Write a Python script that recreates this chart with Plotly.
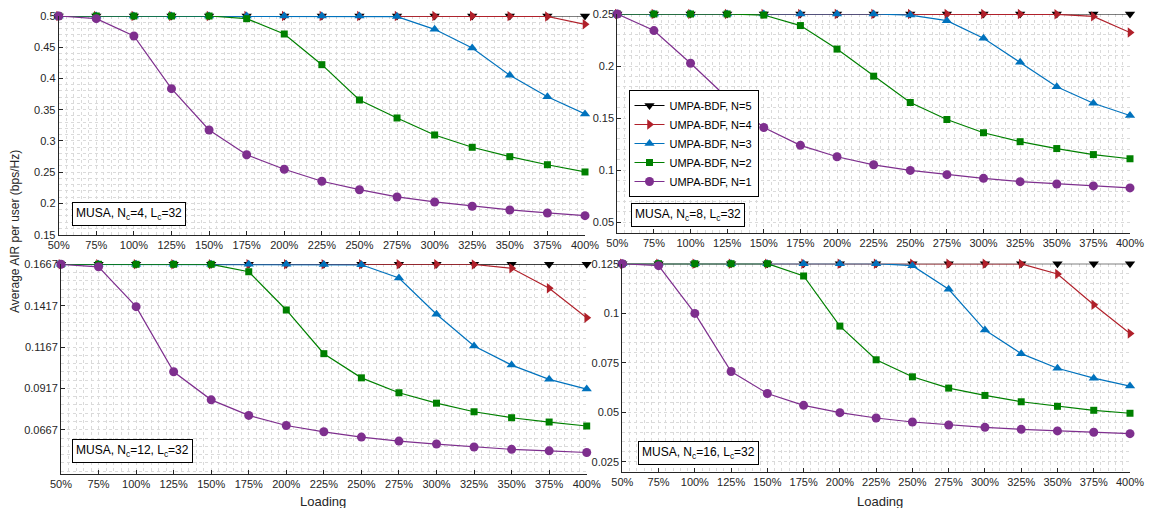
import plotly.graph_objects as go

# page has an 8px body margin; figure coordinates are reference pixels minus OFF
OFF = 8
W, H = 1153 - 2 * OFF, 516 - 2 * OFF

loading = [50, 75, 100, 125, 150, 175, 200, 225, 250, 275, 300, 325, 350, 375, 400]
loading_labels = [f"{v}%" for v in loading]
series_names = ["UMPA-BDF, N=5", "UMPA-BDF, N=4", "UMPA-BDF, N=3", "UMPA-BDF, N=2", "UMPA-BDF, N=1"]

# Panel Nc=4
nc4_n5 = [0.5] * 15
nc4_n4 = [0.5, 0.5, 0.5, 0.5, 0.5, 0.5, 0.5, 0.5, 0.5, 0.5, 0.5, 0.5, 0.4998, 0.4992, 0.4867]
nc4_n3 = [0.5, 0.5, 0.5, 0.5, 0.5, 0.5, 0.5, 0.5, 0.5, 0.499, 0.4787, 0.4488, 0.4051, 0.3709, 0.3432]
nc4_n2 = [0.5, 0.5, 0.5, 0.5, 0.5, 0.4957, 0.4712, 0.4221, 0.3656, 0.3368, 0.3096, 0.2899, 0.2749, 0.262, 0.2504]
nc4_n1 = [0.5, 0.4957, 0.468, 0.3837, 0.3176, 0.278, 0.2547, 0.2355, 0.222, 0.2104, 0.2024, 0.1955, 0.1896, 0.1848, 0.1805]

# Panel Nc=8
nc8_n5 = [0.25] * 15
nc8_n4 = [0.25, 0.25, 0.25, 0.25, 0.25, 0.25, 0.25, 0.25, 0.25, 0.25, 0.25, 0.25, 0.2497, 0.2477, 0.2322]
nc8_n3 = [0.25, 0.25, 0.25, 0.25, 0.25, 0.25, 0.25, 0.25, 0.249, 0.2436, 0.2268, 0.2036, 0.1801, 0.1643, 0.1525]
nc8_n2 = [0.25, 0.25, 0.25, 0.25, 0.249, 0.2389, 0.2163, 0.1903, 0.165, 0.1487, 0.136, 0.1274, 0.1208, 0.115, 0.111]
nc8_n1 = [0.25, 0.2341, 0.2027, 0.1696, 0.141, 0.1239, 0.1129, 0.1052, 0.0998, 0.0957, 0.0922, 0.089, 0.0868, 0.0849, 0.083]

# Panel Nc=12
nc12_n5 = [0.1667] * 15
nc12_n4 = [0.1667, 0.1667, 0.1667, 0.1667, 0.1667, 0.1667, 0.1667, 0.1667, 0.1667, 0.1667, 0.1667, 0.1666, 0.1643, 0.1522, 0.1344]
nc12_n3 = [0.1667, 0.1667, 0.1667, 0.1667, 0.1667, 0.1667, 0.1667, 0.1666, 0.1664, 0.1584, 0.1365, 0.1173, 0.1058, 0.0972, 0.0913]
nc12_n2 = [0.1667, 0.1667, 0.1667, 0.1667, 0.1667, 0.1622, 0.1391, 0.1127, 0.0981, 0.0891, 0.0828, 0.0776, 0.074, 0.0714, 0.069]
nc12_n1 = [0.1667, 0.1652, 0.1411, 0.1018, 0.0848, 0.0754, 0.0693, 0.0655, 0.0623, 0.0599, 0.0581, 0.0563, 0.0549, 0.054, 0.053]

# Panel Nc=16
nc16_n5 = [0.125] * 15
nc16_n4 = [0.125, 0.125, 0.125, 0.125, 0.125, 0.125, 0.125, 0.125, 0.125, 0.125, 0.125, 0.1249, 0.1198, 0.1043, 0.0898]
nc16_n3 = [0.125, 0.125, 0.125, 0.125, 0.125, 0.125, 0.125, 0.125, 0.124, 0.1121, 0.0915, 0.0796, 0.0722, 0.0672, 0.0632]
nc16_n2 = [0.125, 0.125, 0.125, 0.125, 0.125, 0.1188, 0.0935, 0.0765, 0.0679, 0.0622, 0.0585, 0.0553, 0.053, 0.051, 0.0495]
nc16_n1 = [0.125, 0.124, 0.0999, 0.0706, 0.0595, 0.0535, 0.0498, 0.0471, 0.0451, 0.0436, 0.0424, 0.0414, 0.0406, 0.0399, 0.0392]

colors = ["#000000", "#B0202A", "#0072BD", "#008000", "#7E2F8E"]
symbols = ["triangle-down", "triangle-right", "triangle-up", "square", "circle"]
msizes = [9, 9, 9, 7, 9]

panels = [
    dict(data=[nc4_n5, nc4_n4, nc4_n3, nc4_n2, nc4_n1], label="MUSA, N<sub>c</sub>=4, L<sub>c</sub>=32",
         yticks=[0.15, 0.2, 0.25, 0.3, 0.35, 0.4, 0.45, 0.5], ytext=["0.15", "0.2", "0.25", "0.3", "0.35", "0.4", "0.45", "0.5"],
         yrange=[0.15, 0.5], ytick0=0.15, ydt=0.01,
         xdom=[58.7, 585.0], ydom=[234.7, 16.0], box=(128.7, 214.0)),
    dict(data=[nc8_n5, nc8_n4, nc8_n3, nc8_n2, nc8_n1], label="MUSA, N<sub>c</sub>=8, L<sub>c</sub>=32",
         yticks=[0.05, 0.1, 0.15, 0.2, 0.25], ytext=["0.05", "0.1", "0.15", "0.2", "0.25"],
         yrange=[0.04, 0.25], ytick0=0.05, ydt=0.01,
         xdom=[617.3, 1130.0], ydom=[232.7, 14.0], box=(687.5, 214.5)),
    dict(data=[nc12_n5, nc12_n4, nc12_n3, nc12_n2, nc12_n1], label="MUSA, N<sub>c</sub>=12, L<sub>c</sub>=32",
         yticks=[0.0667, 0.0917, 0.1167, 0.1417, 0.1667], ytext=["0.0667", "0.0917", "0.1167", "0.1417", "0.1667"],
         yrange=[0.04, 0.1667], ytick0=0.0667, ydt=0.005,
         xdom=[61.0, 586.7], ydom=[474.0, 264.3], box=(132.0, 450.7)),
    dict(data=[nc16_n5, nc16_n4, nc16_n3, nc16_n2, nc16_n1], label="MUSA, N<sub>c</sub>=16, L<sub>c</sub>=32",
         yticks=[0.025, 0.05, 0.075, 0.1, 0.125], ytext=["0.025", "0.05", "0.075", "0.1", "0.125"],
         yrange=[0.02, 0.125], ytick0=0.025, ydt=0.005,
         xdom=[622.3, 1130.0], ydom=[471.7, 263.7], box=(698.0, 452.8)),
]


def px(x):
    return (x - OFF) / W


def py(y):
    return 1 - (y - OFF) / H


fig = go.Figure()
FONT = "Liberation Sans, Arial, Helvetica, sans-serif"
TXT = "#262626"
GRID = "#dadada"

layout = {}
annotations = []
for i, p in enumerate(panels):
    k = "" if i == 0 else str(i + 1)
    for j in range(5):
        fig.add_trace(go.Scatter(
            x=loading, y=p["data"][j], mode="lines+markers", name=series_names[j],
            line=dict(color=colors[j], width=1.2),
            marker=dict(symbol=symbols[j], size=msizes[j], color=colors[j]),
            xaxis="x" + k, yaxis="y" + k, showlegend=(i == 1), legendrank=j + 1,
            cliponaxis=False,
        ))
    layout["xaxis" + k] = dict(
        domain=[px(p["xdom"][0]), px(p["xdom"][1])], anchor="y" + k, automargin=False,
        range=[50, 400], tickvals=loading, ticktext=loading_labels, ticklabeloverflow="allow",
        showline=True, linecolor=TXT, linewidth=1, ticks="inside", ticklen=4, tickcolor=TXT,
        showgrid=True, gridcolor=GRID, griddash="dot", gridwidth=1, zeroline=False,
        minor=dict(tick0=50, dtick=5, showgrid=True, gridcolor=GRID, griddash="dot", gridwidth=1),
        tickfont=dict(family=FONT, size=11, color=TXT),
    )
    layout["yaxis" + k] = dict(
        domain=[py(p["ydom"][0]), py(p["ydom"][1])], anchor="x" + k, automargin=False,
        range=p["yrange"], tickvals=p["yticks"], ticktext=p["ytext"], ticklabeloverflow="allow",
        showline=True, linecolor=TXT, linewidth=1, ticks="inside", ticklen=4, tickcolor=TXT,
        showgrid=True, gridcolor=GRID, griddash="dot", gridwidth=1, zeroline=False,
        minor=dict(tick0=p["ytick0"], dtick=p["ydt"], showgrid=True, gridcolor=GRID, griddash="dot", gridwidth=1),
        tickfont=dict(family=FONT, size=11, color=TXT),
    )
    annotations.append(dict(
        x=px(p["box"][0]), y=py(p["box"][1]), xref="paper", yref="paper",
        xanchor="center", yanchor="middle", text=p["label"], showarrow=False,
        font=dict(family=FONT, size=12, color="#000000"),
        bordercolor="#000000", borderwidth=1, borderpad=3, bgcolor="white",
    ))

annotations.append(dict(x=px(15), y=py(232), xref="paper", yref="paper", text="Average AIR per user (bps/Hz)",
                        textangle=-90, showarrow=False, xanchor="center", yanchor="middle",
                        font=dict(family=FONT, size=12, color=TXT)))
annotations.append(dict(x=px(323), y=py(501), xref="paper", yref="paper", text="Loading",
                        showarrow=False, xanchor="center", yanchor="middle",
                        font=dict(family=FONT, size=13, color=TXT)))
annotations.append(dict(x=px(880), y=py(501), xref="paper", yref="paper", text="Loading",
                        showarrow=False, xanchor="center", yanchor="middle",
                        font=dict(family=FONT, size=13, color=TXT)))

fig.update_layout(
    width=W, height=H, margin=dict(l=0, r=0, t=0, b=0, autoexpand=False),
    paper_bgcolor="white", plot_bgcolor="white",
    annotations=annotations,
    legend=dict(x=px(628.5), y=py(197), xanchor="left", yanchor="bottom",
                bordercolor="#000000", borderwidth=1, bgcolor="white",
                font=dict(family=FONT, size=11, color="#000000"),
                tracegroupgap=0, itemwidth=30),
    **layout,
)

fig.write_html("out.html")
